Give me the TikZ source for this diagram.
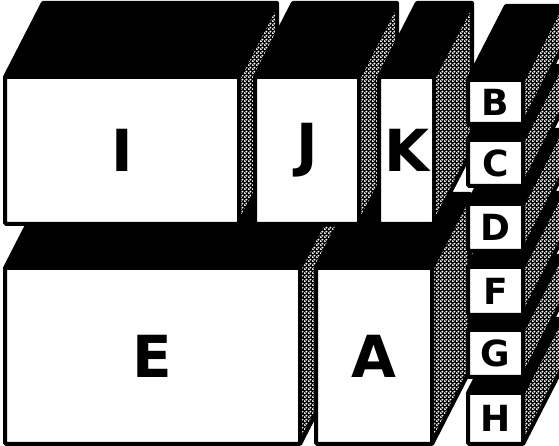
\documentclass[tikz,border=0pt]{standalone}
\usepackage{fontspec}
\setmainfont{DejaVu Sans}
\usetikzlibrary{patterns}
% coarse halftone dots for the shaded faces
\pgfdeclarepatternformonly{halftone}{\pgfpointorigin}{\pgfpoint{4pt}{4pt}}{\pgfpoint{4pt}{4pt}}{%
  \pgfpathcircle{\pgfpoint{1pt}{1pt}}{1.3pt}
  \pgfpathcircle{\pgfpoint{3pt}{3pt}}{1.3pt}
  \pgfusepath{fill}}
\tikzset{
  front/.style={draw, fill=white, rectangle, rounded corners=1.5pt, line width=4pt, inner sep=0pt, outer sep=0pt,
                font=\fontsize{58}{58}\selectfont\bfseries},
  small/.style={minimum width=55, font=\fontsize{36}{36}\selectfont\bfseries},
  topface/.style={draw, fill=black, line width=4pt, line join=round},
  sideface/.style={draw, line width=4pt, line join=round, preaction={fill=black}, pattern=halftone, pattern color=white}
}
% top and right face of a box, depth (38,74)
\newcommand{\faces}[1]{%
  \path[topface] (#1.north west) -- ++(38,74) -- ([shift={(38,74)}]#1.north east) -- (#1.north east) -- cycle;
  \path[sideface] (#1.north east) -- ([shift={(38,74)}]#1.north east) -- ([shift={(38,74)}]#1.south east) -- (#1.south east) -- cycle;}

\begin{document}
\begin{tikzpicture}[x=1pt, y=1pt]
\useasboundingbox (0,0) rectangle (559,446);
\clip (0,0) rectangle (559,446);
% lower row
\node[front, minimum width=295, minimum height=176] (E) at (152.5,90) {E}; \faces{E}
\node[front, minimum width=116, minimum height=176] (A) at (374,90) {A}; \faces{A}
% upper row
\node[front, minimum width=234, minimum height=147] (I) at (122,295.5) {I}; \faces{I}
\node[front, minimum width=104, minimum height=147] (J) at (307,295.5) {J}; \faces{J}
\node[front, minimum width=55, minimum height=147] (K) at (406.5,295.5) {K}; \faces{K}
% column of small boxes, bottom up
\node[front, small, minimum height=51] (H) at (495.5,27.5) {H}; \faces{H}
\node[front, small, minimum height=47] (G) at (495.5,92.5) {G}; \faces{G}
\node[front, small, minimum height=48] (F) at (495.5,155) {F}; \faces{F}
\node[front, small, minimum height=47] (D) at (495.5,218.5) {D}; \faces{D}
\node[front, small, minimum height=46] (C) at (495.5,283) {C}; \faces{C}
\node[front, small, minimum height=44] (B) at (495.5,344) {B}; \faces{B}
\end{tikzpicture}
\end{document}
